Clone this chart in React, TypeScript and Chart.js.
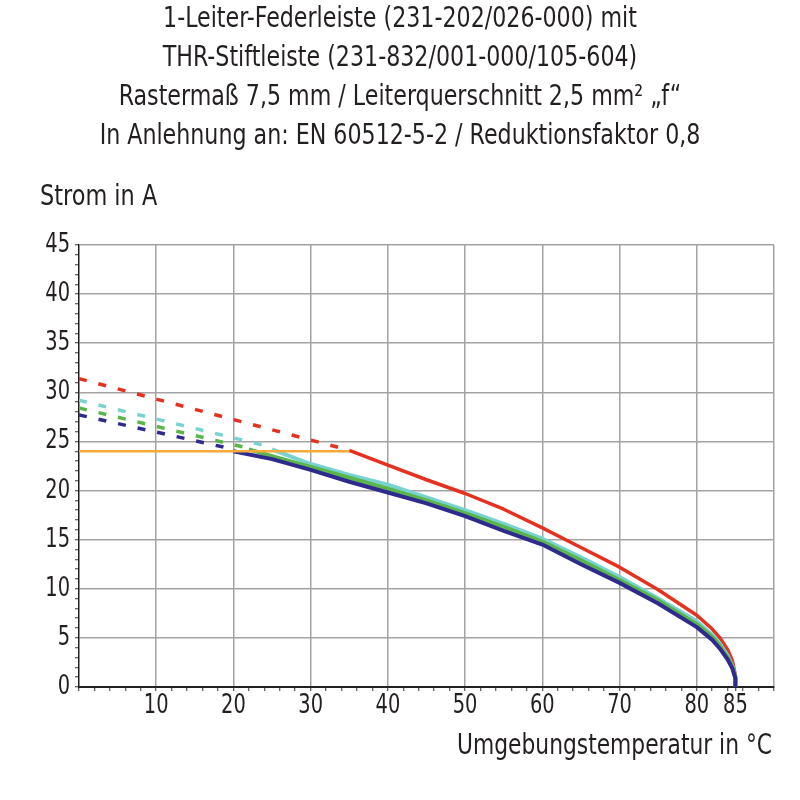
import React, { useEffect, useRef } from "react";
import { Chart, registerables } from "chart.js";

Chart.register(...registerables);

const FONT = '"DejaVu Sans Condensed", "DejaVu Sans", sans-serif';
const TEXT = "#231f20";
const GRID = "#a3a3a3";

// Header text above the diagram
const titleLines = [
  "1-Leiter-Federleiste (231-202/026-000) mit",
  "THR-Stiftleiste (231-832/001-000/105-604)",
  "Rastermaß 7,5 mm / Leiterquerschnitt 2,5 mm² „f“",
  "In Anlehnung an: EN 60512-5-2 / Reduktionsfaktor 0,8",
];
const yAxisTitle = "Strom in A";
const xAxisTitle = "Umgebungstemperatur in °C";

// Labelled ticks and grid positions
const xLabelled = [10, 20, 30, 40, 50, 60, 70, 80, 85];
const xGridValues = [10, 20, 30, 40, 50, 60, 70, 80, 90];
const yLabelled = [0, 5, 10, 15, 20, 25, 30, 35, 40, 45];

// Current limit of the connector (orange)
const limitTemp = [0, 35];
const limitCurr = [24.0, 24.0];

// Extrapolated sections above the limit (dashed)
const redDashTemp = [0, 35];
const redDashCurr = [31.4, 24.1];
const cyanDashTemp = [0, 25];
const cyanDashCurr = [29.2, 24.4];
const greenDashTemp = [0, 22];
const greenDashCurr = [28.4, 24.3];
const blueDashTemp = [0, 20];
const blueDashCurr = [27.7, 24.2];

// Derating curves (solid)
const redTemp = [35, 40, 45, 50, 55, 60, 65, 70, 75, 80, 82, 83, 84, 84.6, 85, 85];
const redCurr = [24.1, 22.6, 21.1, 19.7, 18.1, 16.2, 14.2, 12.2, 9.9, 7.3, 5.9, 5.0, 3.8, 2.7, 1.2, 0];

const cyanTemp = [25, 30, 35, 40, 45, 50, 55, 60, 65, 70, 75, 80, 82, 83, 84, 84.6, 85, 85];
const cyanCurr = [24.2, 22.7, 21.6, 20.6, 19.3, 18.0, 16.6, 15.1, 13.2, 11.2, 9.0, 6.7, 5.3, 4.4, 3.2, 2.2, 1.0, 0];

const greenTemp = [22, 25, 30, 35, 40, 45, 50, 55, 60, 65, 70, 75, 80, 82, 83, 84, 84.6, 85, 85];
const greenCurr = [24.2, 23.5, 22.4, 21.3, 20.2, 19.0, 17.7, 16.3, 14.8, 12.9, 10.9, 8.8, 6.4, 5.1, 4.2, 3.0, 2.1, 1.0, 0];

const blueTemp = [20, 25, 30, 35, 40, 45, 50, 55, 60, 65, 70, 75, 80, 82, 83, 84, 84.6, 85, 85];
const blueCurr = [24.0, 23.2, 22.1, 20.9, 19.8, 18.7, 17.4, 15.9, 14.5, 12.5, 10.6, 8.5, 6.1, 4.8, 3.9, 2.8, 1.9, 0.9, 0];

const pts = (xs: number[], ys: number[]) => xs.map((x, i) => ({ x, y: ys[i] }));

const RED = "#e5311f";
const CYAN = "#78d2d0";
const GREEN = "#5ab64a";
const BLUE = "#2e2a8e";
const ORANGE = "#f6aa3a";

const solid = (label: string, data: any[], color: string, width: number) => ({
  label,
  data,
  borderColor: color,
  backgroundColor: color,
  borderWidth: width,
  pointRadius: 0,
  showLine: true,
  tension: 0,
  borderCapStyle: "butt" as const,
  borderJoinStyle: "round" as const,
});

const dashed = (label: string, data: any[], color: string) => ({
  ...solid(label, data, color, 3.5),
  borderDash: [8, 12],
});

// Narrow text: the condensed face squeezed horizontally a little further
function narrowText(
  ctx: CanvasRenderingContext2D,
  text: string,
  x: number,
  y: number,
  size: number,
  squeeze: number,
  align: CanvasTextAlign
) {
  ctx.save();
  ctx.font = `${size}px ${FONT}`;
  ctx.textAlign = align;
  ctx.textBaseline = "middle";
  ctx.fillStyle = TEXT;
  ctx.translate(x, y);
  ctx.scale(squeeze, 1);
  ctx.fillText(text, 0, 0);
  ctx.restore();
}

const textPlugin = {
  id: "diagramText",
  afterDraw(chart: any) {
    const { ctx, chartArea } = chart;
    const xs = chart.scales.x;
    const ys = chart.scales.y;
    titleLines.forEach((t, i) => narrowText(ctx, t, 400, 20 + i * 39, 28, 0.88, "center"));
    narrowText(ctx, yAxisTitle, 40, 198, 28, 0.89, "left");
    narrowText(ctx, xAxisTitle, chartArea.right - 2, 747, 28, 0.865, "right");
    yLabelled.forEach((v) => narrowText(ctx, String(v), 70, ys.getPixelForValue(v), 27, 0.8, "right"));
    xLabelled.forEach((v) =>
      narrowText(ctx, String(v), xs.getPixelForValue(v), chartArea.bottom + 19, 27, 0.8, "center")
    );
  },
};

export default function App() {
  const canvasRef = useRef<HTMLCanvasElement | null>(null);

  useEffect(() => {
    if (!canvasRef.current) return;
    const chart = new Chart(canvasRef.current, {
      type: "scatter",
      data: {
        datasets: [
          solid("Grenzstrom", pts(limitTemp, limitCurr), ORANGE, 2.5),
          solid("blau", pts(blueTemp, blueCurr), BLUE, 4),
          solid("grün", pts(greenTemp, greenCurr), GREEN, 4),
          solid("türkis", pts(cyanTemp, cyanCurr), CYAN, 4),
          solid("rot", pts(redTemp, redCurr), RED, 3.5),
          dashed("blau extrapoliert", pts(blueDashTemp, blueDashCurr), BLUE),
          dashed("grün extrapoliert", pts(greenDashTemp, greenDashCurr), GREEN),
          dashed("türkis extrapoliert", pts(cyanDashTemp, cyanDashCurr), CYAN),
          dashed("rot extrapoliert", pts(redDashTemp, redDashCurr), RED),
        ],
      },
      options: {
        responsive: false,
        animation: false,
        devicePixelRatio: 1,
        layout: { padding: { left: 0, right: 26, top: 245, bottom: 0 } },
        plugins: {
          legend: { display: false },
          tooltip: { enabled: false },
          title: { display: false },
        },
        scales: {
          x: {
            type: "linear",
            min: 0,
            max: 90,
            afterBuildTicks: (scale: any) => {
              const t: { value: number }[] = [];
              for (let v = 0; v <= 90; v += 2) t.push({ value: v });
              t.push({ value: 85 });
              t.sort((a, b) => a.value - b.value);
              scale.ticks = t;
            },
            afterFit: (scale: any) => {
              scale.height = 113;
            },
            ticks: { display: false, autoSkip: false },
            grid: {
              drawTicks: true,
              tickLength: 4,
              tickWidth: 1,
              tickColor: "#333",
              lineWidth: 1.5,
              color: (c: any) =>
                c.tick && xGridValues.includes(c.tick.value) ? GRID : "rgba(0,0,0,0)",
            },
            border: { display: true, color: "#222", width: 2 },
          },
          y: {
            type: "linear",
            min: 0,
            max: 45,
            afterBuildTicks: (scale: any) => {
              const t: { value: number }[] = [];
              for (let v = 0; v <= 45; v += 1) t.push({ value: v });
              scale.ticks = t;
            },
            afterFit: (scale: any) => {
              scale.width = 79;
            },
            ticks: { display: false, autoSkip: false },
            grid: {
              drawTicks: true,
              tickLength: 4,
              tickWidth: 1,
              tickColor: "#333",
              lineWidth: 1.5,
              color: (c: any) =>
                c.tick && c.tick.value > 0 && c.tick.value % 5 === 0 ? GRID : "rgba(0,0,0,0)",
            },
            border: { display: true, color: "#222", width: 1.5 },
          },
        },
      },
      plugins: [textPlugin],
    } as any);
    return () => chart.destroy();
  }, []);

  return (
    <div style={{ position: "absolute", left: 0, top: 0, width: 800, height: 800, background: "#fff" }}>
      <canvas ref={canvasRef} width={800} height={800} />
    </div>
  );
}
